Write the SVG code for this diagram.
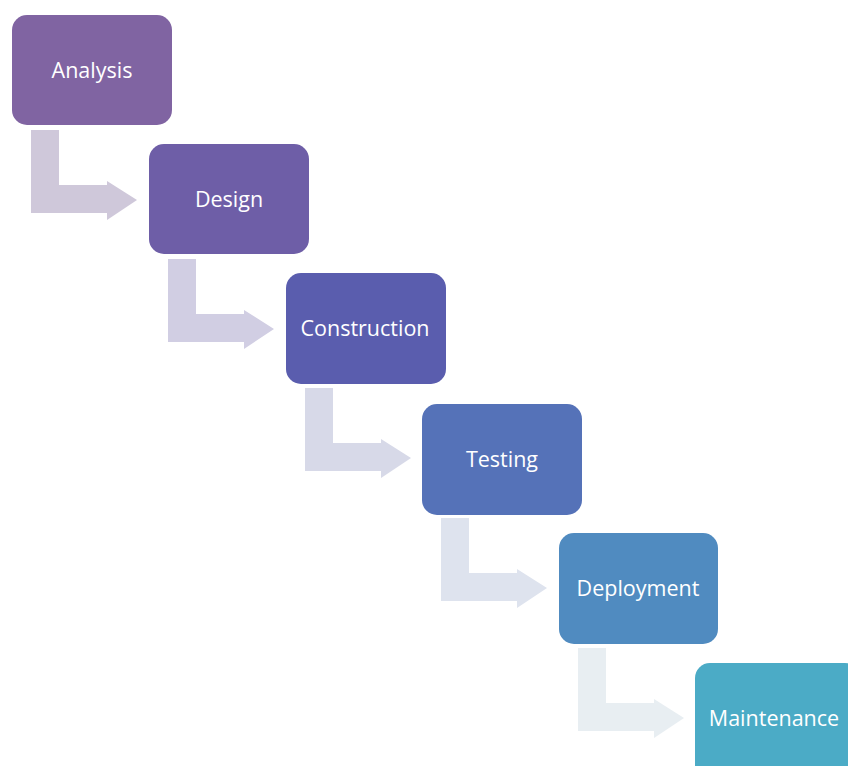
<svg xmlns="http://www.w3.org/2000/svg" width="848" height="766" viewBox="0 0 848 766">
<style>
.box{stroke:none}
.lbl{font-family:"Open Sans","Liberation Sans",sans-serif;font-size:21.5px;fill:#ffffff;text-anchor:middle;dominant-baseline:central}
</style>
<rect width="848" height="766" fill="#ffffff"/>
<g id="connectors">
<path d="M31,130 H59 V185 H107 V181 L137,200 L107,220 V213 H31 Z" fill="#CFC8DA"/>
<path d="M168,259 H196 V314 H244 V310 L274,329 L244,349 V342 H168 Z" fill="#D1CEE3"/>
<path d="M305,388 H333 V443 H381 V439 L411,458 L381,478 V471 H305 Z" fill="#D7D9E8"/>
<path d="M441,518 H469 V573 H517 V569 L547,588 L517,608 V601 H441 Z" fill="#DEE3EE"/>
<path d="M578,648 H606 V703 H654 V699 L684,718 L654,738 V731 H578 Z" fill="#E8EEF2"/>
</g>
<g id="analysis"><rect class="box" x="12" y="15" width="160" height="110" rx="15" fill="#8064A2"/><text class="lbl" x="92" y="69">Analysis</text></g>
<g id="design"><rect class="box" x="149" y="144" width="160" height="110" rx="15" fill="#6E5EA7"/><text class="lbl" x="229" y="198">Design</text></g>
<g id="construction"><rect class="box" x="286" y="273" width="160" height="111" rx="15" fill="#5A5DAE"/><text class="lbl" x="365" y="327">Construction</text></g>
<g id="testing"><rect class="box" x="422" y="404" width="160" height="111" rx="15" fill="#5572B8"/><text class="lbl" x="502" y="458">Testing</text></g>
<g id="deployment"><rect class="box" x="559" y="533" width="159" height="111" rx="15" fill="#508BC0"/><text class="lbl" x="638" y="587">Deployment</text></g>
<g id="maintenance"><rect class="box" x="695" y="663" width="165" height="120" rx="15" fill="#4BABC6"/><text class="lbl" x="774" y="717">Maintenance</text></g>
</svg>
